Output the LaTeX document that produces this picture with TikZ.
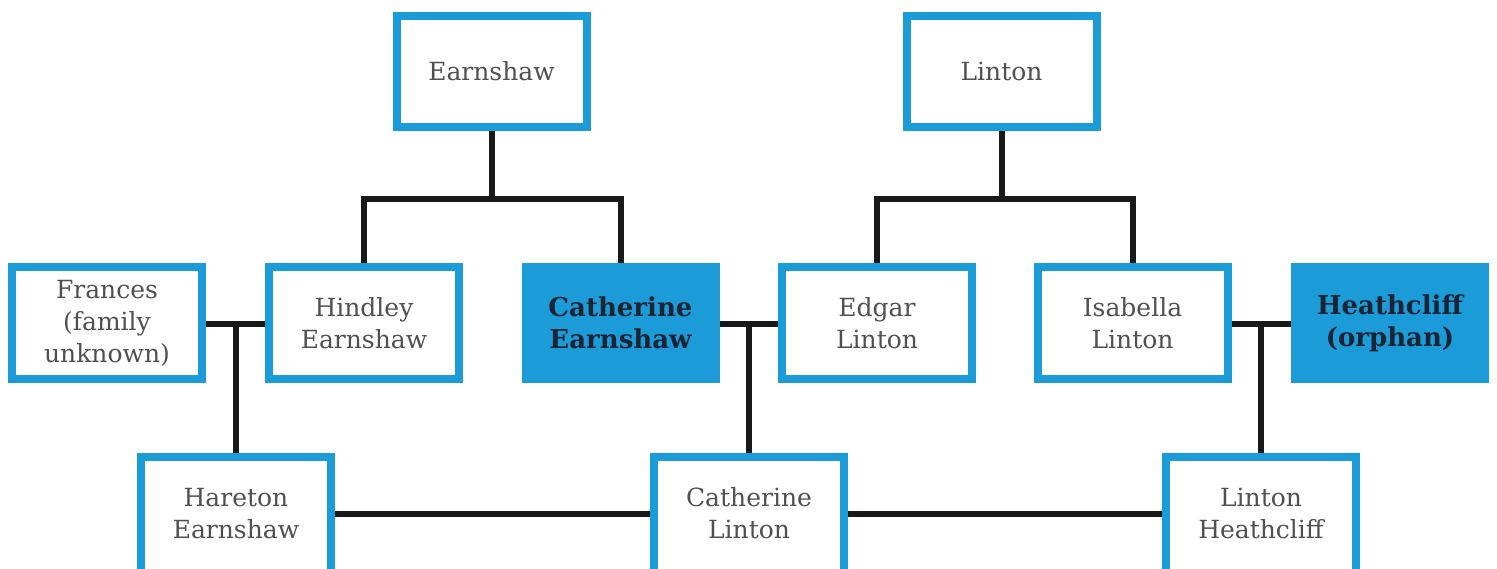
\documentclass[tikz,border=0pt]{standalone}
\usepackage{fontspec}
\setmainfont{DejaVu Serif}
\definecolor{fblue}{HTML}{1B9BD7}
\definecolor{ftext}{HTML}{505050}
\definecolor{fdark}{HTML}{1C2333}
\begin{document}
\begin{tikzpicture}[x=1pt,y=-1pt,
  person/.style={draw=fblue, fill=white, line width=8pt, minimum width=190pt, minimum height=111pt,
    align=center, text=ftext, font=\fontsize{25}{32}\selectfont, inner sep=0pt},
  lowperson/.style={person, minimum height=125pt},
  keyperson/.style={person, fill=fblue, text=fdark, font=\fontsize{26}{32}\selectfont\bfseries},
  link/.style={line width=6pt, black!90, line cap=butt, line join=miter}]
\useasboundingbox (0,0) rectangle (1497,569);
% nodes
\node[person] (earn) at (491.5,71.5) {Earnshaw};
\node[person] (lint) at (1001.5,71.5) {Linton};
\node[person] (fran) at (107,323) {Frances\\(family\\unknown)};
\node[person] (hind) at (364,323) {Hindley\\Earnshaw};
\node[keyperson] (cate) at (620.5,323) {Catherine\\Earnshaw};
\node[person] (edga) at (877,323) {Edgar\\Linton};
\node[person] (isab) at (1132.5,323) {Isabella\\Linton};
\node[keyperson] (heat) at (1390,323) {Heathcliff\\(orphan)};
\node[lowperson] (hare) at (236,519.5) {Hareton\\Earnshaw\\[-19pt]};
\node[lowperson] (catl) at (749,519.5) {Catherine\\Linton\\[-19pt]};
\node[lowperson] (linh) at (1261,519.5) {Linton\\Heathcliff\\[-19pt]};
% junction coordinates
\coordinate (ej) at (491.5,199);
\coordinate (lj) at (1001.5,199);
\coordinate (m1) at (236,324);
\coordinate (m2) at (749,324);
\coordinate (m3) at (1261,324);
\coordinate (b1) at (236,514);
% connectors
\draw[link] (earn.south) -- (ej);
\draw[link] (hind.north) |- (ej) -| (cate.north);
\draw[link] (lint.south) -- (lj);
\draw[link] (edga.north) |- (lj) -| (isab.north);
\draw[link] (fran.east |- m1) -- (hind.west |- m1);
\draw[link] (m1) -- (hare.north);
\draw[link] (cate.east |- m2) -- (edga.west |- m2);
\draw[link] (m2) -- (catl.north);
\draw[link] (isab.east |- m3) -- (heat.west |- m3);
\draw[link] (m3) -- (linh.north);
\draw[link] (hare.east |- b1) -- (catl.west |- b1);
\draw[link] (catl.east |- b1) -- (linh.west |- b1);
\end{tikzpicture}
\end{document}
